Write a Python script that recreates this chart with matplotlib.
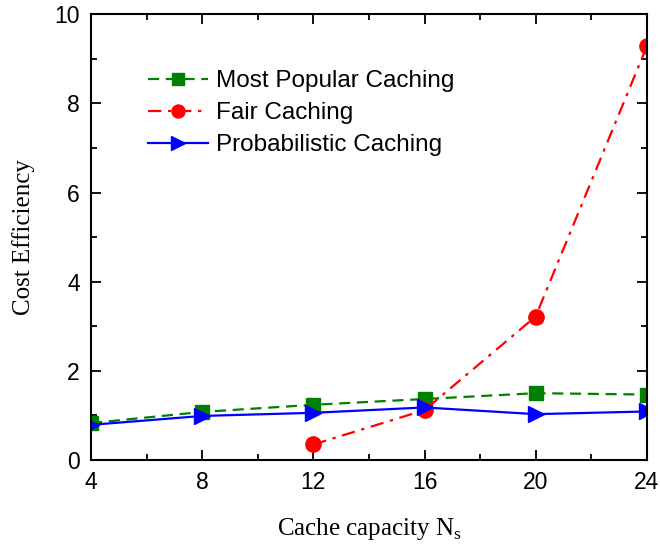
import matplotlib
matplotlib.use("Agg")
import matplotlib.pyplot as plt
from matplotlib.ticker import MultipleLocator

capacity = [4, 8, 12, 16, 20, 24]
most_popular = [0.83, 1.08, 1.24, 1.37, 1.50, 1.47]
fair_x = [12, 16, 20, 24]
fair = [0.35, 1.12, 3.22, 9.28]
probabilistic = [0.79, 0.99, 1.06, 1.18, 1.03, 1.09]

fig = plt.figure(figsize=(6.6, 5.49), dpi=100)
ax = fig.add_axes([0.138, 0.162, 0.842, 0.812])

ax.plot(capacity, most_popular, color="green", linestyle=(0, (5, 3)),
        linewidth=1.6, marker="s", markersize=9.5, label="Most Popular Caching")
ax.plot(fair_x, fair, color="red", linestyle=(0, (6, 3, 1.5, 3)),
        linewidth=1.6, marker="o", markersize=11, label="Fair Caching")
ax.plot(capacity, probabilistic, color="blue", linestyle="-", linewidth=1.6,
        marker=">", markersize=12, label="Probabilistic Caching")

ax.set_xlim(4, 24)
ax.set_ylim(0, 10)
ax.xaxis.set_major_locator(MultipleLocator(4))
ax.xaxis.set_minor_locator(MultipleLocator(2))
ax.yaxis.set_major_locator(MultipleLocator(2))
ax.yaxis.set_minor_locator(MultipleLocator(1))
ax.tick_params(which="both", direction="in", top=True, right=True, width=1.3)
ax.tick_params(which="major", length=7, labelsize=16.5, pad=8)
ax.tick_params(which="minor", length=4)
for lbl in ax.get_xticklabels() + ax.get_yticklabels():
    lbl.set_family("Liberation Sans")
for s in ax.spines.values():
    s.set_linewidth(1.5)

ax.set_xlabel("Cache capacity N$_\\mathregular{s}$", family="Liberation Serif",
              fontsize=18, labelpad=16)
ax.set_ylabel("Cost Efficiency", family="Liberation Serif", fontsize=18,
              labelpad=14)

leg = ax.legend(loc="upper left", bbox_to_anchor=(0.1025, 0.875),
                frameon=False, borderpad=0, borderaxespad=0,
                prop={"family": "Liberation Sans", "size": 17.5},
                handlelength=2.45, handletextpad=0.33, labelspacing=0.42,
                markerscale=0.85)

fig.savefig("out.png", dpi=100)
